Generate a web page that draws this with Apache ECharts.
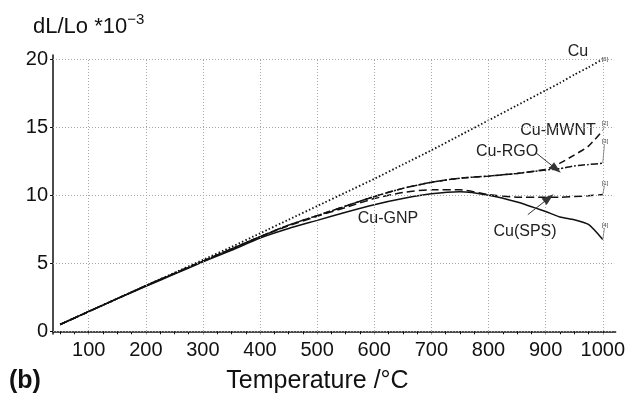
<!DOCTYPE html>
<html>
<head>
<meta charset="utf-8">
<script src="https://cdn.jsdelivr.net/npm/echarts@6/dist/echarts.min.js"></script>
<style>
  html, body { margin: 0; padding: 0; background: #fff; }
  #chart { width: 628px; height: 396px; }
</style>
</head>
<body>
<div id="chart"></div>
<script>
// temperatures (°C) shared by all curves
const temps = [50, 100, 150, 200, 250, 300, 350, 400, 450, 500, 550, 600, 650, 700, 750, 800, 850, 900, 925, 950, 975, 1000];

// dL/Lo *10^-3
const cu     = [0.5, 1.45, 2.4, 3.35, 4.3, 5.25, 6.2, 7.2, 8.2, 9.2, 10.2, 11.2, 12.25, 13.3, 14.4, 15.5, 16.6, 17.7, 18.25, 18.85, 19.4, 20.0];
const cuMwnt = [0.5, 1.45, 2.4, 3.35, 4.25, 5.15, 6.05, 6.95, 7.8, 8.5, 9.2, 9.9, 10.5, 10.95, 11.25, 11.4, 11.6, 11.9, 12.35, 12.95, 13.6, 14.75];
const cuRgo  = [0.5, 1.45, 2.4, 3.35, 4.25, 5.15, 6.05, 6.95, 7.8, 8.5, 9.2, 9.9, 10.5, 10.95, 11.25, 11.4, 11.6, 11.85, 11.95, 12.15, 12.25, 12.35];
const cuSps  = [0.5, 1.45, 2.4, 3.35, 4.25, 5.15, 6.05, 6.95, 7.75, 8.45, 9.1, 9.75, 10.2, 10.4, 10.4, 10.05, 9.85, 9.85, 9.85, 9.9, 9.95, 10.05];
const cuGnp  = [0.5, 1.45, 2.4, 3.3, 4.2, 5.1, 5.95, 6.85, 7.55, 8.15, 8.75, 9.3, 9.75, 10.1, 10.25, 10.0, 9.5, 8.8, 8.4, 8.2, 7.85, 6.75];

// axis ticks and labels
const xTicks = [50, 75, 100, 125, 150, 175, 200, 225, 250, 275, 300, 325, 350, 375, 400, 425, 450, 475, 500, 525, 550, 575, 600, 625, 650, 675, 700, 725, 750, 775, 800, 825, 850, 875, 900, 925, 950, 975, 1000];
const xLabels = [100, 200, 300, 400, 500, 600, 700, 800, 900, 1000];
const yLabels = [0, 5, 10, 15, 20];

const FONT = "'Liberation Sans', Arial, sans-serif";
const INK = '#111';

const chart = echarts.init(document.getElementById('chart'), null, { renderer: 'canvas' });

function pairs(vals) {
  return temps.map((t, i) => [t, vals[i]]);
}

const gridStyle = { color: '#a8a8a8', width: 1, type: [1, 2] };
const gridLines = []
  .concat(xLabels.map(x => [{ coord: [x, -0.2], lineStyle: gridStyle }, { coord: [x, 20] }]))
  .concat(yLabels.map(y => [{ coord: [37.5, y], lineStyle: gridStyle }, { coord: [1020, y] }]));

const hookStyle = { color: '#777', width: 0.8, type: 'solid' };
function hook(end, top) {
  return [{ coord: [1000, end], lineStyle: hookStyle }, { coord: [1003, top] }];
}

const arrowStyle = { color: '#333', width: 1, type: 'solid' };

function line(name, vals, type, width, extraMark) {
  return {
    name: name,
    type: 'line',
    data: pairs(vals),
    showSymbol: false,
    smooth: 0.2,
    lineStyle: { color: INK, width: width, type: type },
    z: 3,
    markLine: extraMark ? {
      silent: true,
      symbol: 'none',
      label: { show: false },
      animation: false,
      data: extraMark
    } : undefined
  };
}

const option = {
  animation: false,
  backgroundColor: '#fff',
  grid: { left: 53, right: 12, top: 55, bottom: 62 },
  xAxis: {
    type: 'value',
    min: 37.5,
    max: 1022.5,
    axisLine: { show: true, lineStyle: { color: INK, width: 1.5 } },
    axisTick: { show: true, customValues: xTicks, length: 3, lineStyle: { color: INK, width: 1 } },
    axisLabel: { customValues: xLabels, formatter: v => String(v), fontFamily: FONT, fontSize: 20, color: INK, margin: 6 },
    splitLine: { show: false }
  },
  yAxis: {
    type: 'value',
    min: -0.2,
    max: 20.3,
    axisLine: { show: true, lineStyle: { color: INK, width: 1.5 } },
    axisTick: { show: true, customValues: yLabels, length: 3, lineStyle: { color: INK, width: 1 } },
    axisLabel: { customValues: yLabels, formatter: v => String(v), fontFamily: FONT, fontSize: 20, color: INK, margin: 5 },
    splitLine: { show: false }
  },
  series: [
    {
      name: 'grid',
      type: 'line',
      data: [],
      markLine: { silent: true, symbol: 'none', label: { show: false }, animation: false, data: gridLines }
    },
    line('Cu', cu, [1.5, 2.2], 1.8),
    line('Cu-MWNT', cuMwnt, [7, 4], 1.5, [hook(14.75, 15.05)]),
    line('Cu-RGO', cuRgo, [7, 2, 2, 2], 1.5, [
      hook(12.35, 13.75),
      [{ coord: [883.5, 13.1], symbol: 'none', lineStyle: arrowStyle },
       { coord: [918.5, 11.92], symbol: 'triangle', symbolSize: [8, 12] }]
    ]),
    line('Cu(SPS)', cuSps, [8, 4], 1.5, [
      hook(10.05, 10.7),
      [{ coord: [868.8, 8.57], symbol: 'none', lineStyle: arrowStyle },
       { coord: [905.6, 9.79], symbol: 'triangle', symbolSize: [8, 12] }]
    ]),
    line('Cu-GNP', cuGnp, 'solid', 1.5, [hook(6.75, 7.6)])
  ],
  graphic: [
    {
      type: 'text', left: 33, top: 12,
      style: {
        text: '{a|dL/Lo *10}{b|\u22123}',
        fill: INK,
        rich: {
          a: { font: '22px ' + FONT, fill: INK, lineHeight: 26, verticalAlign: 'bottom' },
          b: { font: '15px ' + FONT, fill: INK, lineHeight: 26, verticalAlign: 'top' }
        }
      }
    },
    { type: 'text', x: 9, y: 381, style: { text: '(b)', font: 'bold 25px ' + FONT, fill: INK, textVerticalAlign: 'middle' } },
    { type: 'text', x: 317.5, y: 381, style: { text: 'Temperature /\u00b0C', font: '25px ' + FONT, fill: INK, textAlign: 'center', textVerticalAlign: 'middle' } },
    { type: 'text', x: 578, y: 52, style: { text: 'Cu', font: '16px ' + FONT, fill: '#222', textAlign: 'center', textVerticalAlign: 'middle' } },
    { type: 'text', x: 558, y: 131, style: { text: 'Cu-MWNT', font: '16px ' + FONT, fill: '#222', textAlign: 'center', textVerticalAlign: 'middle' } },
    { type: 'text', x: 507, y: 152, style: { text: 'Cu-RGO', font: '16px ' + FONT, fill: '#222', textAlign: 'center', textVerticalAlign: 'middle' } },
    { type: 'text', x: 388, y: 219, style: { text: 'Cu-GNP', font: '16px ' + FONT, fill: '#222', textAlign: 'center', textVerticalAlign: 'middle' } },
    { type: 'text', x: 525, y: 232, style: { text: 'Cu(SPS)', font: '16px ' + FONT, fill: '#222', textAlign: 'center', textVerticalAlign: 'middle' } },
    { type: 'text', x: 605, y: 59, style: { text: '[6]', font: '6px ' + FONT, fill: '#444', textAlign: 'center', textVerticalAlign: 'middle' } },
    { type: 'text', x: 605, y: 123, style: { text: '[2]', font: '6px ' + FONT, fill: '#444', textAlign: 'center', textVerticalAlign: 'middle' } },
    { type: 'text', x: 605, y: 141, style: { text: '[3]', font: '6px ' + FONT, fill: '#444', textAlign: 'center', textVerticalAlign: 'middle' } },
    { type: 'text', x: 605, y: 183, style: { text: '[1]', font: '6px ' + FONT, fill: '#444', textAlign: 'center', textVerticalAlign: 'middle' } },
    { type: 'text', x: 605, y: 225, style: { text: '[4]', font: '6px ' + FONT, fill: '#444', textAlign: 'center', textVerticalAlign: 'middle' } }
  ]
};

chart.setOption(option);
</script>
</body>
</html>
